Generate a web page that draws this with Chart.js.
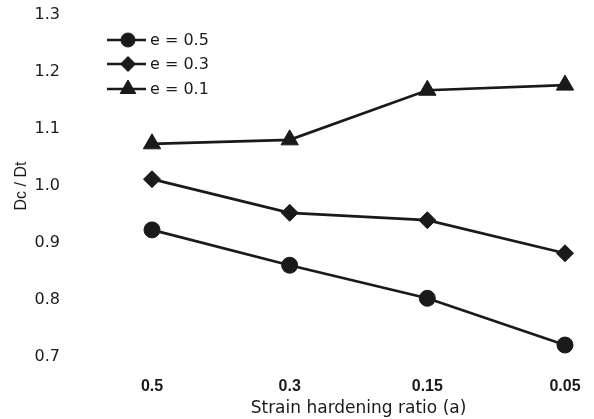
<!DOCTYPE html>
<html>
<head>
<meta charset="utf-8">
<script src="https://cdn.jsdelivr.net/npm/chart.js@4.4.1/dist/chart.umd.min.js"></script>
<style>
  html, body { margin: 0; padding: 0; background: #fff; }
  #wrap { width: 594px; height: 419px; position: relative; }
</style>
</head>
<body>
<div id="wrap"><canvas id="c"></canvas></div>
<script>
// values
const categories = ["0.5", "0.3", "0.15", "0.05"];
const e05 = [0.923, 0.861, 0.803, 0.721];
const e03 = [1.012, 0.953, 0.940, 0.882];
const e01 = [1.074, 1.081, 1.168, 1.177];
const yTicks = [0.7, 0.8, 0.9, 1.0, 1.1, 1.2, 1.3];

const INK = "#1a1a1a";
const SANS = "'Liberation Sans', Arial, sans-serif";
const WIDE = "'DejaVu Sans', sans-serif";

function series(label, data, pointStyle, radius) {
  return {
    label, data, pointStyle,
    borderColor: INK, backgroundColor: INK,
    borderWidth: 2.7, pointRadius: radius, pointHoverRadius: radius,
    pointBorderWidth: 1, tension: 0, clip: false,
  };
}

// legend drawn inside the plot, line + marker like the original
const insideLegend = {
  id: "insideLegend",
  afterDraw(chart) {
    const { ctx } = chart;
    const x0 = 107, x1 = 146, rows = [40, 64, 89];
    ctx.save();
    chart.data.datasets.forEach((ds, i) => {
      const y = rows[i];
      ctx.strokeStyle = INK;
      ctx.lineWidth = 2.5;
      ctx.beginPath();
      ctx.moveTo(x0, y);
      ctx.lineTo(x1, y);
      ctx.stroke();
      ctx.fillStyle = INK;
      ctx.strokeStyle = INK;
      ctx.lineWidth = 1;
      Chart.helpers.drawPoint(ctx, {
        pointStyle: ds.pointStyle, radius: ds.pointRadius - 1, borderWidth: 1, rotation: 0,
      }, 128, y);
      ctx.fillStyle = INK;
      ctx.font = "16px " + WIDE;
      ctx.textBaseline = "middle";
      ctx.textAlign = "left";
      ctx.fillText(ds.label, 150, y + 1);
    });
    ctx.restore();
  },
};

new Chart(document.getElementById("c"), {
  type: "line",
  data: {
    labels: categories,
    datasets: [
      series("e = 0.5", e05, "circle", 8),
      series("e = 0.3", e03, "rectRot", 8.5),
      series("e = 0.1", e01, "triangle", 10),
    ],
  },
  options: {
    responsive: true,
    maintainAspectRatio: false,
    animation: false,
    layout: { padding: { top: 15, right: 29, left: 0, bottom: 0 } },
    plugins: { legend: { display: false }, tooltip: { enabled: false } },
    scales: {
      x: {
        type: "category",
        offset: false,
        grid: { display: false, drawTicks: false },
        border: { display: false },
        ticks: { color: INK, padding: 20, font: { family: SANS, size: 16, weight: "bold" } },
        title: {
          display: true, text: "Strain hardening ratio (a)", color: INK,
          font: { family: WIDE, size: 17 }, padding: { top: 2, bottom: 0 },
        },
        afterFit(scale) {
          scale.height = 62;
          scale.paddingLeft = 0;
          scale.paddingRight = 0;
        },
      },
      y: {
        min: 0.7, max: 1.3,
        grid: { display: false, drawTicks: false },
        border: { display: false },
        afterBuildTicks(scale) { scale.ticks = yTicks.map(v => ({ value: v })); },
        ticks: {
          color: INK, padding: 92,
          font: { family: WIDE, size: 16 },
          callback: v => v.toFixed(1),
        },
        title: {
          display: true, text: "Dc / Dt", color: INK,
          font: { family: SANS, size: 16 }, padding: { top: 12, bottom: 0 },
        },
        afterFit(scale) {
          scale.width = 152;
          scale.paddingTop = 0;
          scale.paddingBottom = 0;
        },
      },
    },
  },
  plugins: [insideLegend],
});
</script>
</body>
</html>
